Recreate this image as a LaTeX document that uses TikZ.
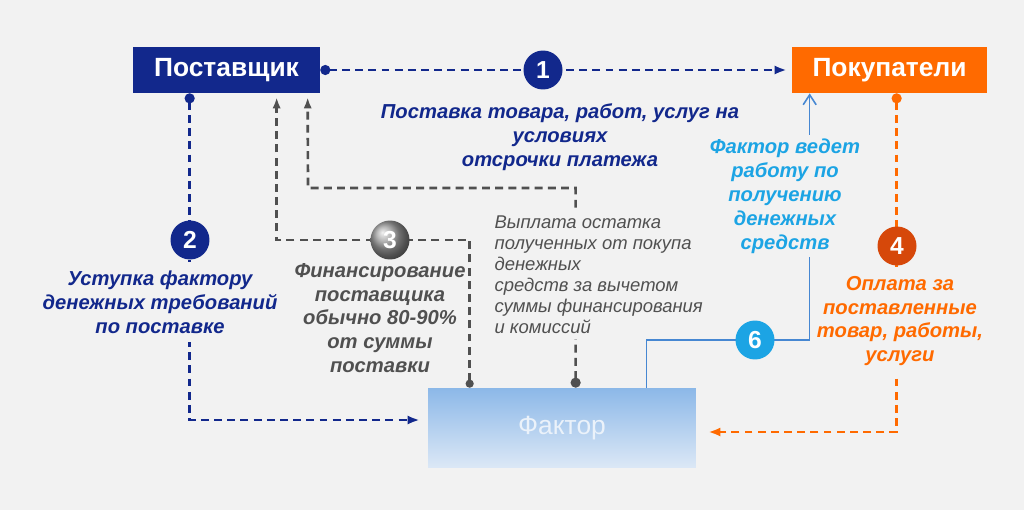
\documentclass[tikz,border=0pt]{standalone}
\usepackage{fontspec}
\setmainfont{Liberation Sans}
\usepackage{xcolor}
\usetikzlibrary{
    arrows.meta,
    backgrounds
}

\definecolor{bgcol}{RGB}{242,242,242}
\definecolor{navy}{RGB}{18,40,140}
\definecolor{orng}{RGB}{255,106,0}
\definecolor{dkorng}{RGB}{214,72,10}
\definecolor{skyblue}{RGB}{28,164,228}
\definecolor{linkblue}{RGB}{70,135,210}
\definecolor{dgray}{RGB}{80,80,80}

\begin{document}
\begin{tikzpicture}[
    x=0.02cm, y=-0.02cm,
    party/.style={
        minimum height=9.2mm,
        inner sep=0pt,
        text=white,
        font=\fontsize{15}{18}\selectfont\bfseries
    },
    num/.style={
        circle,
        minimum size=7.8mm,
        inner sep=0pt,
        text=white,
        font=\fontsize{14}{16}\selectfont\bfseries
    },
    lbl/.style={
        align=center,
        inner sep=2pt,
        font=\fontsize{11.5}{13.6}\selectfont\bfseries\itshape
    },
    navyline/.style={draw=navy, line width=1.7pt, dash pattern=on 4.5pt off 3pt},
    grayline/.style={draw=dgray, line width=1.5pt, dash pattern=on 4.5pt off 3pt},
    orangeline/.style={draw=orng, line width=1.7pt, dash pattern=on 4.5pt off 3pt},
    thinblue/.style={draw=linkblue, line width=0.9pt}
]

\begin{scope}[on background layer]
\fill[bgcol] (0,0) rectangle (1024,510);
\end{scope}
\useasboundingbox (0,0) rectangle (1024,510);

\node[party, fill=navy, minimum width=37.4mm] (supplier) at (226.5,70) {Поставщик};
\node[party, fill=orng, minimum width=39mm] (buyers) at (889.5,70) {Покупатели};
\node[minimum width=53.6mm, minimum height=16mm,
      top color={rgb,255:red,140;green,184;blue,232},
      bottom color={rgb,255:red,220;green,232;blue,246},
      text={rgb,255:red,235;green,242;blue,250},
      font=\fontsize{15}{18}\selectfont] (factor) at (562,428) {Фактор};

\node[num, fill=navy] (n1) at (543,70) {1};
\node[num, fill=navy] (n2) at (190,240) {2};
\node[num, shading=ball, ball color=gray!75] (n3) at (390,240) {3};
\node[num, fill=dkorng] (n4) at (897,246) {4};
\node[num, fill=skyblue] (n6) at (755,340) {6};

\coordinate (bend5) at (308,188);

\node[lbl, text=navy] (lbl1) at (560,137)
{Поставка товара, работ, услуг на\\условиях\\отсрочки платежа};

\node[lbl, text=navy, fill=bgcol, inner ysep=5pt] (lbl2) at (160,302)
{Уступка фактору\\денежных требований\\по поставке};

\node[lbl, text=dgray] (lbl3) at (380,318)
{Финансирование\\поставщика\\обычно 80-90\%\\от суммы\\поставки};

\node[align=left, anchor=west, fill=bgcol, inner sep=3pt, text=dgray,
      font=\fontsize{10.5}{12}\selectfont\itshape] (lbl5) at (489,275)
{Выплата остатка\\полученных от покупа\\денежных\\средств за вычетом\\суммы финансирования\\и комиссий};

\node[lbl, text=skyblue, fill=bgcol] (lbl6) at (785,196)
{Фактор ведет\\работу по\\получению\\денежных\\средств};

\node[lbl, text=orng, fill=bgcol, inner ysep=5pt] (lbl4) at (900,321)
{Оплата за\\поставленные\\товар, работы,\\услуги};

\begin{scope}[on background layer]
\draw[navyline, {Circle[length=2mm]}-{Latex[length=2.4mm]}, shorten >=1mm]
    (supplier) -- (buyers);

\draw[navyline, {Circle[length=2mm]}-{Latex[length=2.4mm]}, shorten >=1.6mm]
    ([xshift=11.4mm]supplier.south west) |- ([yshift=1.6mm]factor.west);

\draw[grayline, {Circle[length=1.6mm]}-{Latex[length=2.2mm]}, shorten >=0.8mm]
    ([xshift=8.4mm]factor.north west) |- (n3.center) -| ([xshift=28.8mm]supplier.south west);

\draw[grayline, {Circle[length=2mm]}-{Latex[length=2.2mm]}, shorten >=0.8mm]
    ([xshift=29.6mm]factor.north west) |- (bend5) -- ([xshift=35mm]supplier.south west);

\draw[orangeline, {Circle[length=2mm]}-{Latex[length=2.4mm]}, shorten >=2.4mm]
    ([xshift=21mm]buyers.south west) |- ([yshift=-0.8mm]factor.east);

\draw[thinblue, -{Straight Barb[length=2mm,width=2.6mm]}]
    ([xshift=43.8mm]factor.north west) |- (n6.center) -| ([xshift=3.6mm]buyers.south west);
\end{scope}

\end{tikzpicture}
\end{document}
